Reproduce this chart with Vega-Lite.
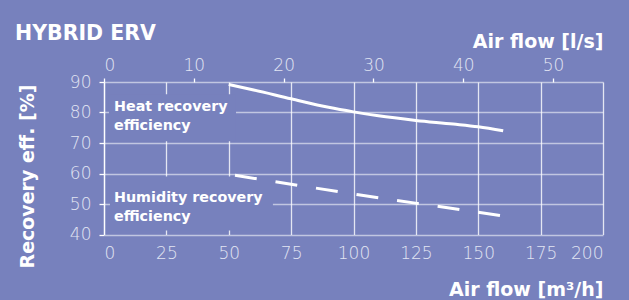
{
  "$schema": "https://vega.github.io/schema/vega-lite/v6.json",
  "autosize": {"type": "none"},
  "width": 499,
  "height": 152.5,
  "padding": {"left": 104, "top": 82, "right": 26, "bottom": 65.5},
  "background": "#7781BD",
  "title": {
    "text": "HYBRID ERV",
    "anchor": "start",
    "frame": "group",
    "font": "DejaVu Sans",
    "fontSize": 20.5,
    "fontWeight": "bold",
    "color": "#FFFFFF",
    "dx": -89,
    "dy": 28,
    "offset": 0,
    "baseline": "alphabetic"
  },
  "config": {
    "view": {"stroke": null},
    "font": "DejaVu Sans",
    "axis": {
      "labelFont": "DejaVu Sans",
      "labelFontWeight": 200,
      "labelFontSize": 17,
      "labelColor": "#E2E5F3",
      "labelOverlap": false,
      "titleFont": "DejaVu Sans",
      "titleFontWeight": "bold",
      "titleFontSize": 19,
      "titleColor": "#FFFFFF"
    }
  },
  "datasets": {
    "heat": [
      {"flow": 50, "eff": 89.2},
      {"flow": 60, "eff": 87.4},
      {"flow": 75, "eff": 84.5},
      {"flow": 90, "eff": 81.7},
      {"flow": 100, "eff": 80.2},
      {"flow": 110, "eff": 78.9},
      {"flow": 125, "eff": 77.4},
      {"flow": 140, "eff": 76.2},
      {"flow": 150, "eff": 75.3},
      {"flow": 160, "eff": 74.0}
    ],
    "humidity": [
      {"flow": 52.5, "eff": 59.4},
      {"flow": 102, "eff": 53.0},
      {"flow": 160, "eff": 46.1}
    ],
    "boxes": [
      {"flow": 2.0, "flow2": 52.9, "eff": 70.6, "eff2": 86.0},
      {"flow": 2.4, "flow2": 67.7, "eff": 41.3, "eff2": 59.0}
    ],
    "labels": [
      {"flow": 4.0, "eff": 81.7, "label": "Heat recovery\nefficiency"},
      {"flow": 4.0, "eff": 51.9, "label": "Humidity recovery\nefficiency"}
    ]
  },
  "layer": [
    {
      "encoding": {
        "x": {
          "field": "flow", "type": "quantitative",
          "scale": {"domain": [0, 200], "nice": false},
          "axis": {
            "orient": "bottom",
            "title": "Air flow [m³/h]",
            "values": [0, 25, 50, 75, 100, 125, 150, 175, 200],
            "grid": true,
            "gridColor": "#FFFFFF",
            "gridOpacity": 0.8,
            "gridWidth": 1.3,
            "domain": false,
            "ticks": false,
            "labelPadding": 11,
            "titleAnchor": "end",
            "titleAlign": "right",
            "titleX": 499,
            "titleY": 61,
            "titleBaseline": "alphabetic"
          }
        },
        "y": {
          "field": "eff", "type": "quantitative",
          "scale": {"domain": [40, 90], "nice": false},
          "axis": {
            "title": "Recovery eff. [%]",
            "values": [40, 50, 60, 70, 80, 90],
            "tickCount": 6,
            "grid": true,
            "gridColor": "#FFFFFF",
            "gridOpacity": 0.55,
            "gridWidth": 1.3,
            "domain": true,
            "domainColor": "#FFFFFF",
            "domainWidth": 1.3,
            "tickColor": "#FFFFFF",
            "tickSize": 5,
            "tickWidth": 1.3,
            "labelPadding": 8,
            "titleAngle": 270,
            "titleAnchor": "middle",
            "titleAlign": "center",
            "titleBaseline": "middle",
            "titleX": -77,
            "titleY": 94
          }
        }
      },
      "layer": [
        {
          "data": {"name": "boxes"},
          "mark": {"type": "rect", "fill": "#7781BD", "stroke": null},
          "encoding": {
            "x2": {"field": "flow2"},
            "y2": {"field": "eff2"}
          }
        },
        {
          "data": {"name": "heat"},
          "mark": {"type": "line", "color": "#FFFFFF", "strokeWidth": 3, "interpolate": "monotone"}
        },
        {
          "data": {"name": "humidity"},
          "mark": {"type": "line", "color": "#FFFFFF", "strokeWidth": 3, "strokeDash": [22, 19]}
        },
        {
          "data": {"name": "labels"},
          "mark": {
            "type": "text",
            "align": "left",
            "baseline": "middle",
            "font": "DejaVu Sans",
            "fontWeight": "bold",
            "fontSize": 14.3,
            "lineHeight": 18.3,
            "color": "#FFFFFF",
            "lineBreak": "\n"
          },
          "encoding": {
            "text": {"field": "label"}
          }
        }
      ]
    },
    {
      "mark": {"type": "rule", "opacity": 0},
      "encoding": {
        "x": {
          "datum": 0,
          "type": "quantitative",
          "scale": {"domain": [0, 55.5556], "nice": false},
          "axis": {
            "orient": "top",
            "title": "Air flow [l/s]",
            "values": [0, 10, 20, 30, 40, 50],
            "grid": false,
            "domain": false,
            "tickColor": "#FFFFFF",
            "tickSize": 4,
            "tickWidth": 1.3,
            "labelPadding": 4,
            "titleAnchor": "end",
            "titleAlign": "right",
            "titleX": 499,
            "titleY": -35,
            "titleBaseline": "alphabetic"
          }
        }
      }
    }
  ],
  "resolve": {"scale": {"x": "independent"}}
}
